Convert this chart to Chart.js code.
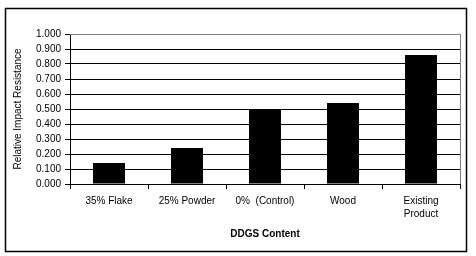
<!DOCTYPE html>
<html>
<head>
<meta charset="utf-8">
<script src="https://cdn.jsdelivr.net/npm/chart.js@4"></script>
<style>
  html, body { margin: 0; padding: 0; background: #fff; }
  #wrap { width: 476px; height: 256px; }
</style>
</head>
<body>
<div id="wrap"><canvas id="impact-chart" width="476" height="256"></canvas></div>
<script>
// chart data
const categories = ['35% Flake', '25% Powder', '0%  (Control)', 'Wood', ['Existing', 'Product']];
const resistance = [0.14, 0.24, 0.50, 0.54, 0.86];
const yTicks = [0, 0.1, 0.2, 0.3, 0.4, 0.5, 0.6, 0.7, 0.8, 0.9, 1.0];

// outer frame and gray plot border
const framePlugin = {
    id: 'frame',
    afterDraw(chart) {
        const ctx = chart.ctx;
        const a = chart.chartArea;
        ctx.save();
        ctx.strokeStyle = '#808080';
        ctx.lineWidth = 1;
        ctx.beginPath();
        ctx.moveTo(a.left, a.top + 0.5);
        ctx.lineTo(a.right + 0.5, a.top + 0.5);
        ctx.lineTo(a.right + 0.5, a.bottom);
        ctx.stroke();
        ctx.strokeStyle = '#000';
        ctx.lineWidth = 1.5;
        ctx.strokeRect(5.5, 8.5, 461, 243);
        ctx.restore();
    }
};

const data = {
    labels: categories,
    datasets: [{
        data: resistance,
        backgroundColor: '#000',
        borderWidth: 0,
        barPercentage: 0.41,
        categoryPercentage: 1.0
    }]
};

const config = {
    type: 'bar',
    data,
    options: {
        responsive: false,
        animation: false,
        layout: { padding: { left: 10, right: 16, top: 34, bottom: 5 } },
        plugins: {
            legend: { display: false },
            tooltip: { enabled: false }
        },
        scales: {
            x: {
                grid: {
                    offset: true,
                    drawOnChartArea: false,
                    drawTicks: true,
                    tickLength: 5,
                    color: '#000'
                },
                border: { color: '#000', width: 1 },
                ticks: {
                    color: '#000',
                    font: { family: 'Liberation Sans, Arial', size: 10, lineHeight: 1.3 },
                    padding: 6,
                    maxRotation: 0,
                    autoSkip: false
                },
                title: {
                    display: true,
                    text: 'DDGS Content',
                    color: '#000',
                    font: { family: 'Liberation Sans, Arial', size: 10, weight: 'bold' },
                    padding: { top: 8, bottom: 11 }
                },
                afterFit(scale) { scale.height = 67; }
            },
            y: {
                min: 0,
                max: 1,
                afterBuildTicks(scale) {
                    scale.ticks = yTicks.map(v => ({ value: v }));
                },
                grid: {
                    color: '#000',
                    tickLength: 5
                },
                border: { color: '#000', width: 1 },
                ticks: {
                    color: '#000',
                    font: { family: 'Liberation Sans, Arial', size: 10 },
                    padding: 4,
                    callback: v => v.toFixed(3)
                },
                title: {
                    display: true,
                    text: 'Relative Impact Resistance',
                    color: '#000',
                    font: { family: 'Liberation Sans, Arial', size: 10 },
                    padding: { top: 2, bottom: 2 }
                },
                afterFit(scale) { scale.width = 60; }
            }
        }
    },
    plugins: [framePlugin]
};

// render the chart
const impactChart = new Chart(document.getElementById('impact-chart'), config);
</script>
</body>
</html>
